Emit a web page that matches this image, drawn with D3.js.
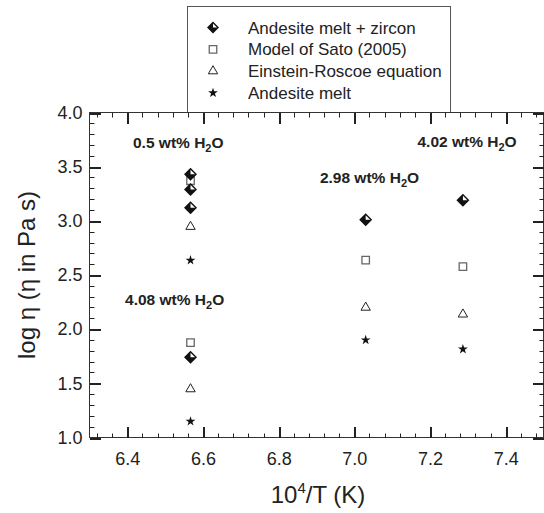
<!DOCTYPE html>
<html>
<head>
<meta charset="utf-8">
<script src="https://cdn.jsdelivr.net/npm/d3@7"></script>
<style>
  body { margin: 0; background: #fff; }
  svg text { font-family: "Liberation Sans", Arial, sans-serif; fill: #222; }
</style>
</head>
<body>
<div id="chart"></div>
<script>
// viscosity vs inverse temperature, four estimates per water content

const seriesNames = ["Andesite melt + zircon", "Model of Sato (2005)", "Einstein-Roscoe equation", "Andesite melt"];

const zirconX = [6.567, 6.567, 6.567, 6.567, 7.030, 7.287];
const zirconY = [3.43, 3.29, 3.12, 1.74, 3.01, 3.19];

const satoX = [6.567, 6.567, 7.030, 7.287];
const satoY = [3.37, 1.876, 2.638, 2.577];

const erX = [6.567, 6.567, 7.030, 7.287];
const erY = [2.946, 1.447, 2.20, 2.137];

const meltX = [6.567, 6.567, 7.030, 7.287];
const meltY = [2.636, 1.149, 1.90, 1.815];

const xTicks = [6.4, 6.6, 6.8, 7.0, 7.2, 7.4];
const yTicks = [1.0, 1.5, 2.0, 2.5, 3.0, 3.5, 4.0];

const notes = [
    { main: "0.5 wt% H", x: 6.415, y: 3.672 },
    { main: "4.08 wt% H", x: 6.394, y: 2.223 },
    { main: "2.98 wt% H", x: 6.909, y: 3.35 },
    { main: "4.02 wt% H", x: 7.167, y: 3.684 }
];

const W = 544, H = 513;
const margin = { top: 112.5, right: 0.5, bottom: 75.5, left: 89.5 };

const svg = d3.select("#chart").append("svg")
    .attr("width", W)
    .attr("height", H);

const x = d3.scaleLinear().domain([6.3, 7.5]).range([margin.left, W - margin.right]);
const y = d3.scaleLinear().domain([1.0, 4.0]).range([H - margin.bottom, margin.top]);

const xMinor = d3.range(6.32, 7.5, 0.04).filter(v => !xTicks.some(t => Math.abs(t - v) < 1e-6));
const yMinor = d3.range(1.1, 4.0, 0.1).filter(v => !yTicks.some(t => Math.abs(t - v) < 1e-6));

// legend box (drawn first so plot frame sits on top)
const lg = svg.append("g");
lg.append("rect")
    .attr("x", 187.5).attr("y", 6.5)
    .attr("width", 263).attr("height", 106)
    .attr("fill", "#fff")
    .attr("stroke", "#555");

// frame
svg.append("rect")
    .attr("x", x(6.3)).attr("y", y(4.0))
    .attr("width", x(7.5) - x(6.3)).attr("height", y(1.0) - y(4.0))
    .attr("fill", "none").attr("stroke", "#333");

const majorLen = 11, minorLen = 4.5;

// tick labels from d3 axes
const gx = svg.append("g")
    .attr("transform", `translate(0,${y(1.0)})`)
    .call(d3.axisBottom(x).tickValues(xTicks).tickSize(0).tickPadding(15).tickFormat(d3.format(".1f")));
const gy = svg.append("g")
    .attr("transform", `translate(${x(6.3)},0)`)
    .call(d3.axisLeft(y).tickValues(yTicks).tickSize(0).tickPadding(7).tickFormat(d3.format(".1f")));
[gx, gy].forEach(g => {
    g.select(".domain").remove();
    g.selectAll("text").attr("font-size", 18).attr("fill", "#222")
        .attr("font-family", "'Liberation Sans', Arial, sans-serif");
});

// inward tick marks on all four sides, as thin filled rects
const tickG = svg.append("g").attr("fill", "#222");
const xt0 = Math.round(y(4.0)), xb0 = Math.round(y(1.0));
const yl0 = Math.round(x(6.3)), yr0 = Math.round(x(7.5));
function xTickRects(vals, len, w) {
    tickG.selectAll(null).data(vals).enter().append("rect")
        .attr("x", d => Math.round(x(d))).attr("width", w)
        .attr("y", xb0 - len).attr("height", len);
    tickG.selectAll(null).data(vals).enter().append("rect")
        .attr("x", d => Math.round(x(d))).attr("width", w)
        .attr("y", xt0).attr("height", len);
}
function yTickRects(vals, len, w) {
    tickG.selectAll(null).data(vals).enter().append("rect")
        .attr("y", d => Math.round(y(d))).attr("height", w)
        .attr("x", yl0).attr("width", len);
    tickG.selectAll(null).data(vals).enter().append("rect")
        .attr("y", d => Math.round(y(d))).attr("height", w)
        .attr("x", yr0 - len).attr("width", len);
}
xTickRects(xTicks, majorLen, 2);
xTickRects(xMinor, minorLen, 1);
yTickRects(yTicks, majorLen, 2);
yTickRects(yMinor, minorLen, 1);

// axis titles
const xt = svg.append("text")
    .attr("x", 318).attr("y", 503)
    .attr("text-anchor", "middle")
    .attr("font-size", 24);
xt.append("tspan").text("10");
xt.append("tspan").attr("font-size", 15).attr("dy", -10).text("4");
xt.append("tspan").attr("dy", 10).text("/T (K)");

svg.append("text")
    .attr("transform", `translate(35,${(y(1.0) + y(4.0)) / 2}) rotate(-90)`)
    .attr("text-anchor", "middle")
    .attr("font-size", 24)
    .text("log \u03B7 (\u03B7 in Pa s)");

// markers
function diamond(g, r) {
    g.append("path").attr("d", `M0,${-r}L${r},0L0,${r}L${-r},0Z`)
        .attr("fill", "#fff").attr("stroke", "#111").attr("stroke-width", 1.4);
    g.append("path").attr("d", `M0,0L${-r},0L0,${-r}Z M0,0L${-r},0L0,${r}Z M0,0L${r},0L0,${r}Z`)
        .attr("fill", "#111");
}
const sq = d3.symbol().type(d3.symbolSquare).size(56);
const tri = d3.symbol().type(d3.symbolTriangle).size(38);
const star = d3.symbol().type(d3.symbolStar).size(30);

function drawSquare(g) {
    g.append("path").attr("d", sq()).attr("fill", "#fff").attr("stroke", "#666").attr("stroke-width", 1.3);
}
function drawTri(g) {
    g.append("path").attr("d", tri()).attr("fill", "#fff").attr("stroke", "#222").attr("stroke-width", 1);
}
function drawStar(g) {
    g.append("path").attr("d", star()).attr("fill", "#111");
}

const drawers = [g => diamond(g, 5.5), drawSquare, drawTri, drawStar];
const allX = [zirconX, satoX, erX, meltX];
const allY = [zirconY, satoY, erY, meltY];

// draw in reverse so diamonds sit on top of squares
[1, 2, 3, 0].forEach(s => {
    allX[s].forEach((xv, i) => {
        const g = svg.append("g").attr("transform", `translate(${x(xv)},${y(allY[s][i])})`);
        drawers[s](g);
    });
});

// water content notes
notes.forEach(n => {
    const t = svg.append("text")
        .attr("x", x(n.x)).attr("y", y(n.y))
        .attr("font-size", 15.5).attr("font-weight", "bold");
    t.append("tspan").text(n.main);
    t.append("tspan").attr("font-size", 11).attr("dy", 4).text("2");
    t.append("tspan").attr("dy", -4).text("O");
});

// legend entries
seriesNames.forEach((name, i) => {
    const cy = 27.5 + i * 21.8;
    const g = lg.append("g").attr("transform", `translate(213,${cy})`);
    if (i === 0) diamond(g, 5);
    else drawers[i](g);
    lg.append("text")
        .attr("x", 248).attr("y", cy + 6)
        .attr("font-size", 17)
        .text(name);
});
</script>
</body>
</html>
